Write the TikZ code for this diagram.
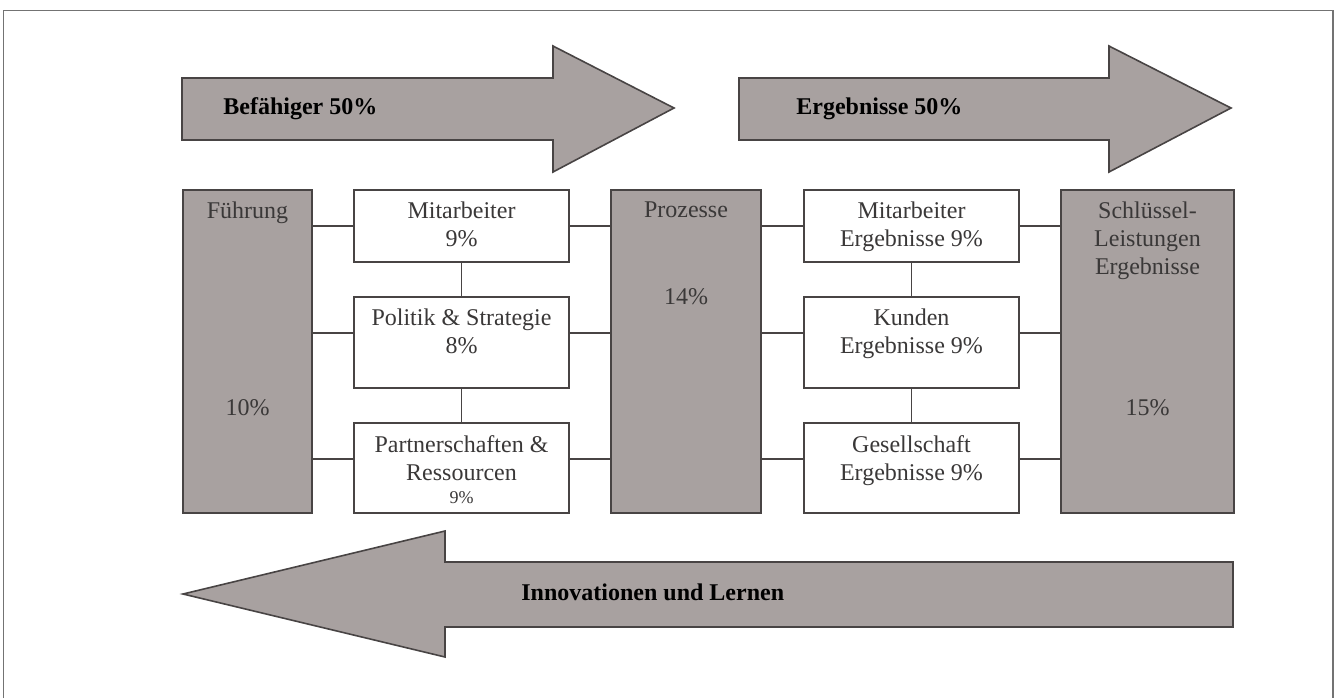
\documentclass[tikz,border=0pt]{standalone}
\usepackage{fontspec}
\setmainfont{Liberation Serif}
\usetikzlibrary{positioning,calc}
\definecolor{efqedge}{RGB}{72,68,68}
\definecolor{efqgrey}{RGB}{168,161,160}
\definecolor{efqtxt}{RGB}{58,56,56}
\definecolor{efqframe}{RGB}{115,115,115}
\tikzset{
  efqbox/.style={draw=efqedge, line width=0.9pt, inner sep=0pt},
  crit/.style={efqbox, fill=efqgrey},
  subbox/.style={efqbox, fill=white, minimum width=107.5pt},
  lnk/.style={draw=efqedge, line width=0.9pt},
  bigarr/.style={draw=efqedge, fill=efqgrey, line width=0.8pt, line join=miter},
  arrtxt/.style={font=\fontsize{12}{14}\selectfont\bfseries, anchor=base west, inner sep=0pt},
  lbl/.style={font=\fontsize{12}{14}\selectfont, text=efqtxt, align=center, inner sep=0pt},
  frm/.style={draw=efqframe, line width=0.7pt}
}
\begin{document}
\begin{tikzpicture}[x=0.5pt,y=-0.5pt]
  \useasboundingbox (0,0) rectangle (1341,698);
  \draw[frm] (3.5,698) -- (3.5,10.5) -- (1333,10.5) -- (1333,698);

  % the three broad arrows
  \draw[bigarr] (182,78) -- (553,78) -- (553,46) -- (674,108) -- (553,172) -- (553,140) -- (182,140) -- cycle;
  \draw[bigarr] (739,78) -- (1109,78) -- (1109,46) -- (1231,108) -- (1109,172) -- (1109,140) -- (739,140) -- cycle;
  \draw[bigarr] (1233,562) -- (445,562) -- (445,531) -- (183,594) -- (445,657) -- (445,627) -- (1233,627) -- cycle;
  \node[arrtxt] (befl) at (223,114) {Befähiger 50\%};
  \node[arrtxt] (ergl) at (796,114) {Ergebnisse 50\%};
  \node[arrtxt] (innl) at (521,600) {Innovationen und Lernen};

  % criteria
  \node[crit, minimum width=64.5pt, minimum height=161.5pt] (fuehr) at (247.5,351.5) {};
  \node[crit, minimum width=75pt, minimum height=161.5pt] (proz) at (686,351.5) {};
  \node[crit, minimum width=86.5pt, minimum height=161.5pt] (schl) at (1147.5,351.5) {};

  \node[subbox, minimum height=36pt] (mit) at (461.5,226) {};
  \node[subbox, minimum height=45.5pt] (polit) at (461.5,342.5) {};
  \node[subbox, minimum height=45pt] (partn) at (461.5,468) {};
  \node[subbox, minimum height=36pt] (mite) at (911.5,226) {};
  \node[subbox, minimum height=45.5pt] (kund) at (911.5,342.5) {};
  \node[subbox, minimum height=45pt] (gese) at (911.5,468) {};

  % texts
  \node[lbl, anchor=north] (fuehrl) at ([yshift=-6.3pt]fuehr.north) {Führung};
  \node[lbl] (fuehrp) at ([yshift=-28.25pt]fuehr.center) {10\%};
  \node[lbl, anchor=north] (prozl) at ([yshift=-6.3pt]proz.north) {Prozesse};
  \node[lbl] (prozp) at ([yshift=27.25pt]proz.center) {14\%};
  \node[lbl, anchor=north] (schll) at ([yshift=-6.3pt]schl.north) {Schlüssel-\\Leistungen\\Ergebnisse};
  \node[lbl] (schlp) at ([yshift=-28.25pt]schl.center) {15\%};
  \node[lbl, anchor=north] (mitl) at ([yshift=-6.3pt]mit.north) {Mitarbeiter\\9\%};
  \node[lbl, anchor=north] (politl) at ([yshift=-6.3pt]polit.north) {Politik \& Strategie\\8\%};
  \node[lbl, anchor=north] (partnl) at ([yshift=-6.3pt]partn.north) {Partnerschaften \&\\Ressourcen\\[-2.5pt]{\fontsize{9}{10}\selectfont 9\%}};
  \node[lbl, anchor=north] (mitel) at ([yshift=-6.3pt]mite.north) {Mitarbeiter\\Ergebnisse 9\%};
  \node[lbl, anchor=north] (kundl) at ([yshift=-6.3pt]kund.north) {Kunden\\Ergebnisse 9\%};
  \node[lbl, anchor=north] (gesel) at ([yshift=-6.3pt]gese.north) {Gesellschaft\\Ergebnisse 9\%};

  % links
  \draw[lnk] (fuehr.east |- mit.west) -- (mit.west);
  \draw[lnk] ([yshift=4.75pt]fuehr.east |- polit.west) -- ([yshift=4.75pt]polit.west);
  \draw[lnk] ([yshift=4.5pt]fuehr.east |- partn.west) -- ([yshift=4.5pt]partn.west);
  \draw[lnk] (mit.east) -- (proz.west |- mit.east);
  \draw[lnk] ([yshift=4.75pt]polit.east) -- ([yshift=4.75pt]proz.west |- polit.east);
  \draw[lnk] ([yshift=4.5pt]partn.east) -- ([yshift=4.5pt]proz.west |- partn.east);
  \draw[lnk] (mit) -- (polit);
  \draw[lnk] (polit) -- (partn);
  \draw[lnk] (proz.east |- mite.west) -- (mite.west);
  \draw[lnk] ([yshift=4.75pt]proz.east |- kund.west) -- ([yshift=4.75pt]kund.west);
  \draw[lnk] ([yshift=4.5pt]proz.east |- gese.west) -- ([yshift=4.5pt]gese.west);
  \draw[lnk] (mite.east) -- (schl.west |- mite.east);
  \draw[lnk] ([yshift=4.75pt]kund.east) -- ([yshift=4.75pt]schl.west |- kund.east);
  \draw[lnk] ([yshift=4.5pt]gese.east) -- ([yshift=4.5pt]schl.west |- gese.east);
  \draw[lnk] (mite) -- (kund);
  \draw[lnk] (kund) -- (gese);
\end{tikzpicture}
\end{document}
